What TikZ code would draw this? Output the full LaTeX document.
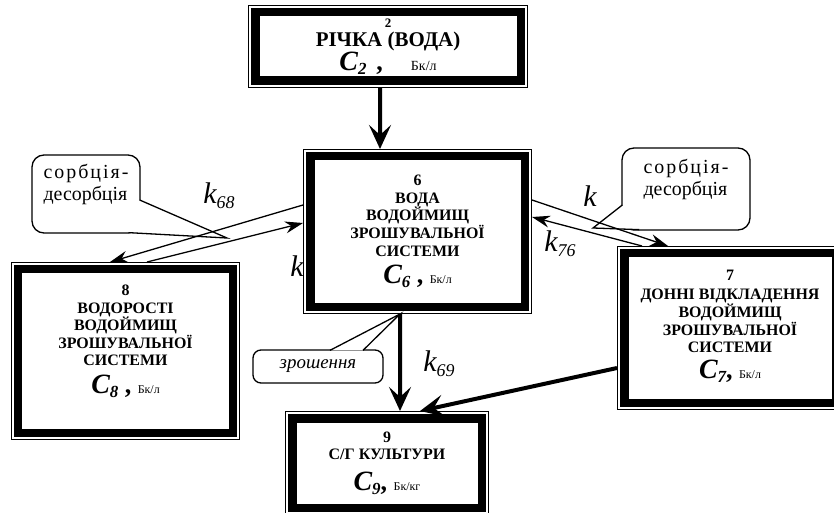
\documentclass[tikz,border=0pt]{standalone}
\usepackage{fontspec}
\setmainfont{Liberation Serif}
\newfontfamily\spacedfont[LetterSpace=10]{Liberation Serif}
\usepackage{tikz}
\usetikzlibrary{arrows.meta,calc}

% concentration line: C with index, separator, unit
\newcommand{\conc}[3]{{\fontsize{28}{30}\selectfont\itshape C\raisebox{-4bp}{\fontsize{17}{17}\selectfont #1}}{\fontsize{26}{28}\selectfont #2}{\mdseries\fontsize{12}{13}\selectfont #3}}
\newcommand{\rate}[1]{k\raisebox{-5bp}{\fontsize{18}{18}\selectfont #1}}

\begin{document}
\begin{tikzpicture}[
    x=1bp, y=-1bp,
    unit/.style={rectangle, draw, fill=white, line width=8.5bp, outer sep=7.25bp, inner sep=0pt, align=center, font=\bfseries\fontsize{16}{17.7}\selectfont},
    frame/.style={line width=1bp},
    callout/.style={rectangle, draw, fill=white, rounded corners=12bp, line width=1.3bp, inner sep=0pt, align=left, font=\fontsize{20}{22}\selectfont},
    pointer/.style={fill=white, line width=1.3bp, line join=miter},
    klabel/.style={inner sep=0pt, font=\fontsize{30}{32}\selectfont\itshape},
    thickarrow/.style={-{Stealth[length=24bp, width=22bp, inset=10bp]}, line width=4bp},
    thinarrow/.style={-{Stealth[length=18bp, width=12bp, inset=6bp]}, line width=1.3bp}
]
\useasboundingbox (0,0) rectangle (834,513);
\clip (0,0) rectangle (834,513);

% rate labels
\node[klabel] (k68) at (219,196) {\rate{68}};
\node[klabel] (k86) at (297,266) {k};
\node[klabel] (k67) at (590,196) {k};
\node[klabel] (k76) at (560,244) {\rate{76}};
\node[klabel] (k69) at (439,364) {\rate{69}};

% compartments
\node[unit, minimum width=265.5bp, minimum height=68.5bp] (river) at (388,46.5)
    {{\fontsize{13}{14}\selectfont 2}\\[1bp]
     {\fontsize{21}{22}\selectfont РІЧКА (ВОДА)}\\
     \conc{2}{\hspace{10bp},\hspace{28bp}}{{\fontsize{14}{15}\selectfont Бк/л}}};
\node[unit, minimum width=214.5bp, minimum height=150.5bp] (water) at (417.5,231.5)
    {6\\ВОДА\\ВОДОЙМИЩ\\ЗРОШУВАЛЬНОЇ\\СИСТЕМИ\\[8bp]\conc{6}{ , }{Бк/л}};
\node[unit, minimum width=214.5bp, minimum height=163.5bp] (algae) at (125.5,351)
    {8\\ВОДОРОСТІ\\ВОДОЙМИЩ\\ЗРОШУВАЛЬНОЇ\\СИСТЕМИ\\[8bp]\conc{8}{ , }{Бк/л}\\[6bp]};
\node[unit, minimum width=211.5bp, minimum height=149.5bp] (sed) at (730,328)
    {7\\[2bp]ДОННІ ВІДКЛАДЕННЯ\\ВОДОЙМИЩ\\ЗРОШУВАЛЬНОЇ\\СИСТЕМИ\\[6bp]\conc{7}{, }{Бк/л}\\[-10bp]};
\node[unit, minimum width=189.5bp, minimum height=89.5bp] (crops) at (387,463)
    {9\\С/Г КУЛЬТУРИ\\[11bp]\conc{9}{, }{Бк/кг}};

\foreach \n in {river,water,algae,sed,crops}
    \draw[frame] ([shift={(0.5bp,-0.5bp)}]\n.north west) rectangle ([shift={(-0.5bp,0.5bp)}]\n.south east);

% callouts
\coordinate (tipL) at (227,238);
\coordinate (tipR) at (593,228);
\node[callout, minimum width=108bp, minimum height=78bp, text depth=24bp] (sorbL) at (86,194)
    {{\spacedfont сорбція-}\\десорбція};
\filldraw[pointer] ($(sorbL.east)+(-1bp,-6bp)$) -- (tipL) -- ($(sorbL.south east)+(-12bp,1bp)$);
\node[callout, minimum width=128bp, minimum height=82bp, text depth=24bp] (sorbR) at (686,189)
    {{\spacedfont сорбція-}\\десорбція};
\filldraw[pointer] ($(sorbR.west)+(1bp,-16bp)$) -- (tipR) -- ($(sorbR.south west)+(18bp,1bp)$);
\node[callout, rounded corners=8bp, minimum width=130bp, minimum height=33bp, font=\fontsize{19}{22}\selectfont\itshape] (irrig) at (318,366.5)
    {зрошення};
\filldraw[pointer] ($(irrig.north)+(12bp,-1bp)$) -- ([xshift=-17.5bp]water.south) -- ($(irrig.north)+(45bp,-1bp)$);

% transfers
\draw[thickarrow] ([xshift=-8bp]river.south) -- ([xshift=-37.5bp]water.north);
\draw[thickarrow] ([xshift=-17.5bp]water.south) -- ([xshift=13bp]crops.north);
\draw[thickarrow] ([yshift=-40bp]sed.west) -- ([xshift=33bp]crops.north);
\draw[thinarrow] ([yshift=26.5bp]water.west) -- ([xshift=-15.5bp]algae.north);
\draw[thinarrow] ([xshift=21.5bp]algae.north) -- ([yshift=8.5bp]water.west);
\draw[thinarrow] ([yshift=31.5bp]water.east) -- ([xshift=51bp]sed.north west);
\draw[thinarrow] ([xshift=25bp]sed.north west) -- ([yshift=14.5bp]water.east);
\end{tikzpicture}
\end{document}
